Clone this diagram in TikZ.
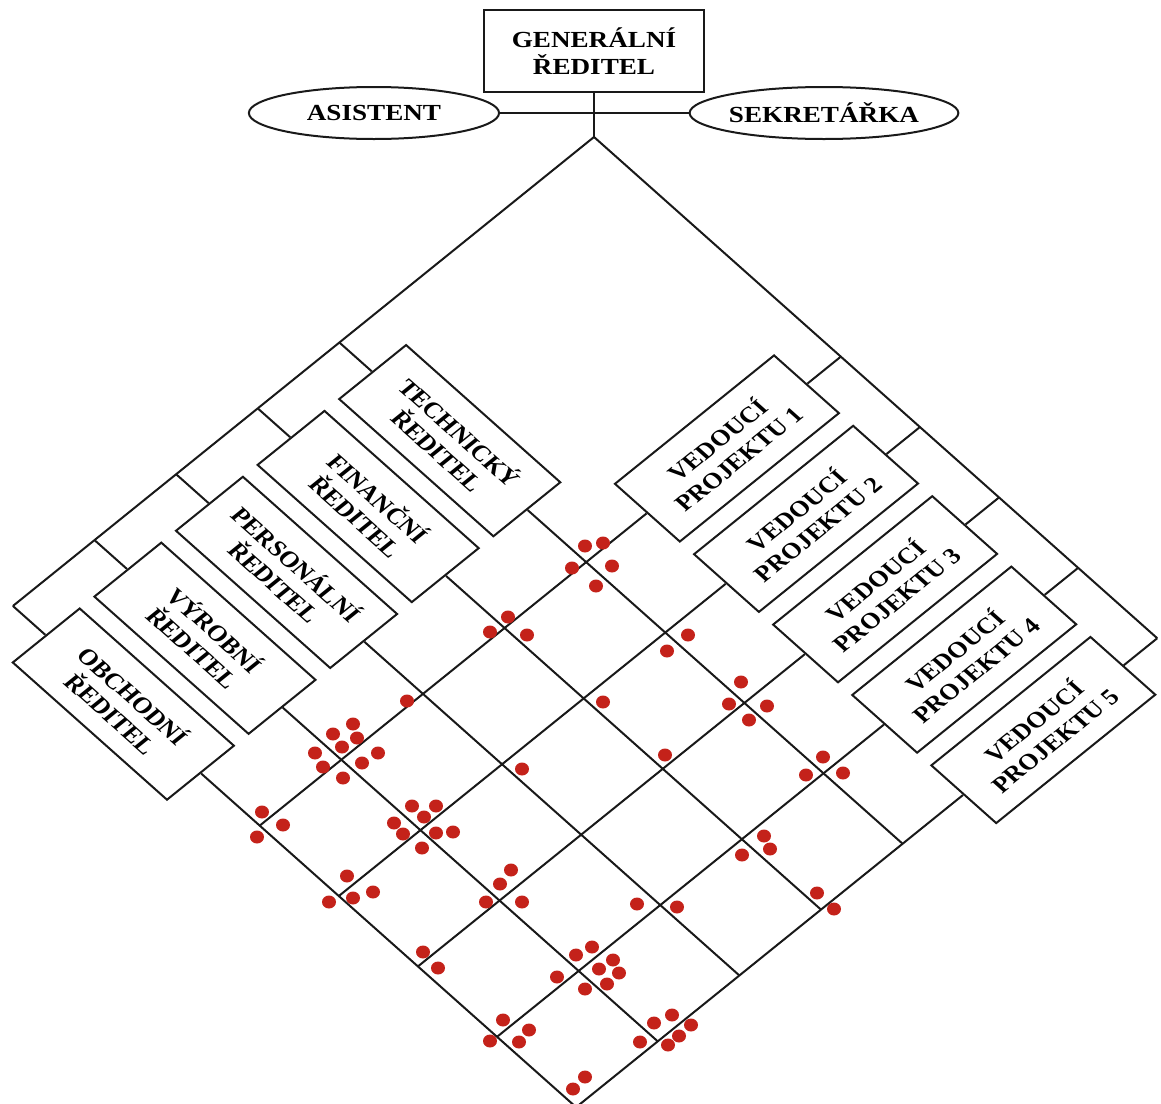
\documentclass[tikz,border=0pt]{standalone}
\usepackage{fontspec}
\setmainfont{Liberation Serif}
\usetikzlibrary{shapes.geometric}

\definecolor{ink}{RGB}{25,25,25}
\definecolor{dotred}{RGB}{196,34,26}

\tikzset{
  orgline/.style={draw=ink, line width=2pt},
  orgbox/.style={draw=ink, line width=2pt, fill=white, rectangle, inner sep=0pt,
    align=center, font=\fontsize{22.5}{26}\selectfont\bfseries},
  dirbox/.style={orgbox, minimum width=189.5pt, minimum height=78.3pt},
  projbox/.style={orgbox, rotate=90, minimum width=186.2pt, minimum height=79.7pt},
  orgoval/.style={draw=ink, line width=2pt, ellipse, inner sep=0pt,
    minimum height=52pt, font=\fontsize{23}{27}\selectfont\bfseries},
  reldot/.style={fill=dotred}
}

\begin{document}
\begin{tikzpicture}[x=1pt,y=1pt]
\path[use as bounding box] (0,0) rectangle (1161,-1103);
\clip (0,0) rectangle (1161,-1103);

% everything is laid out unstretched and widened by 1.18 at the end
\begin{scope}[xscale=1.18, every node/.append style={transform shape}]
  \node[orgbox, minimum width=187pt, minimum height=82pt,
        font=\fontsize{23}{27}\selectfont\bfseries] (gen) at (503.4,-51) {GENERÁLNÍ\\ŘEDITEL};
  \node[orgoval, minimum width=212pt] (asist) at (316.9,-113) {ASISTENT};
  \node[orgoval, minimum width=208.5pt] (sekr) at (698.3,-113) {SEKRETÁŘKA};
  \coordinate (apex) at (503.4,-137);
  \draw[orgline] (asist.east) -- (sekr.west);
  \draw[orgline] (gen.south) -- (apex);

  % the matrix: x runs down-right along the projects, y runs up-right
  \begin{scope}[shift={(503.4,-137)}, rotate=-46.4, x=97.2pt, y=95.5pt]
    \coordinate (lc) at (0,-7.12);
    \coordinate (rc) at (7.12,0);
    \draw[orgline] (lc) -- (0,0) -- (rc);

    % line managers on the left edge
    \foreach \k/\nm/\txt in {0/tech/TECHNICKÝ, 1/fin/FINANČNÍ, 2/pers/PERSONÁLNÍ,
                             3/vyr/VÝROBNÍ, 4/obch/OBCHODNÍ} {
      \pgfmathsetmacro\tpos{-(3.12+\k)}
      \coordinate (\nm-top) at (0,\tpos);
      \coordinate (\nm-end) at (7.12,\tpos);
      \node[dirbox] (\nm) at (1.395,\tpos) {\txt\\ŘEDITEL};
      \draw[orgline] (\nm-top) -- (\nm.west);
      \draw[orgline] (\nm.east) -- (\nm-end);
    }

    % project managers on the right edge
    \foreach \k in {1,...,5} {
      \pgfmathsetmacro\qpos{2.12+\k}
      \coordinate (vp\k-top) at (\qpos,0);
      \coordinate (vp\k-end) at (\qpos,-7.12);
      \node[projbox] (vp\k) at (\qpos,-1.395) {VEDOUCÍ\\PROJEKTU \k};
      \draw[orgline] (vp\k-top) -- (vp\k.east);
      \draw[orgline] (vp\k.west) -- (vp\k-end);
    }
  \end{scope}
\end{scope}

% relations at the crossings
\begin{scope}[x=1pt,y=-1pt]
  \foreach \dx/\dy in {
    585/546, 603/543, 572/568, 612/566, 596/586,
    508/617, 490/632, 527/635,
    688/635, 667/651,
    407/701, 603/702,
    741/682, 729/704, 767/706, 749/720,
    353/724, 333/734, 357/738, 342/747, 315/753, 378/753, 323/767, 362/763, 343/778,
    522/769, 665/755,
    823/757, 806/775, 843/773,
    262/812, 283/825, 257/837,
    412/806, 436/806, 424/817, 394/823, 403/834, 436/833, 453/832, 422/848,
    764/836, 770/849, 742/855,
    347/876, 329/902, 353/898, 373/892,
    511/870, 500/884, 486/902, 522/902,
    637/904, 677/907,
    817/893, 834/909,
    423/952, 438/968,
    576/955, 592/947, 557/977, 613/960, 599/969, 619/973, 607/984, 585/989,
    503/1020, 529/1030, 490/1041, 519/1042,
    672/1015, 654/1023, 691/1025, 679/1036, 640/1042, 668/1045,
    585/1077, 573/1089}
    \fill[reldot] (\dx,\dy) ellipse [x radius=7pt, y radius=6.5pt];
\end{scope}
\end{tikzpicture}
\end{document}
